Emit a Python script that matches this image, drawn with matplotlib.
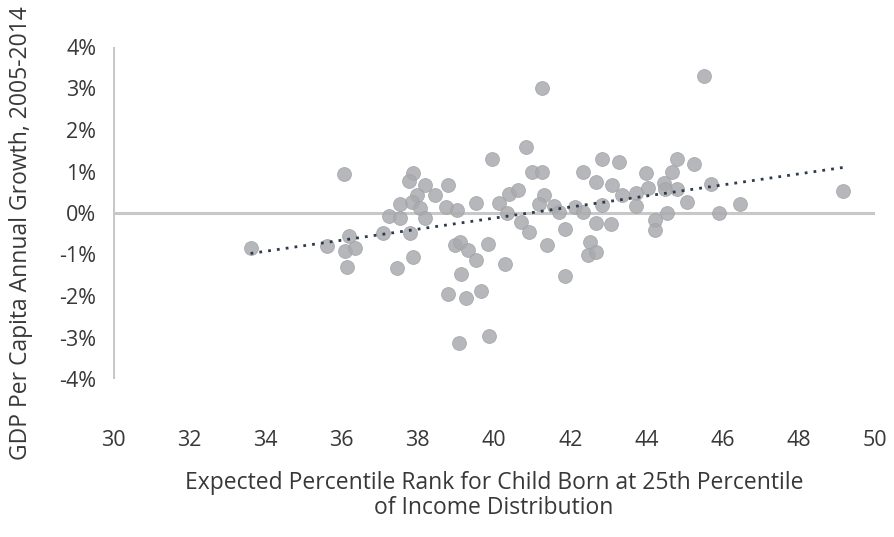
import numpy as np
import matplotlib
matplotlib.use("Agg")
import matplotlib.pyplot as plt

# expected percentile rank (x) vs GDP per capita growth in % (y)
rank = [33.61, 36.07, 35.61, 36.19, 36.09, 36.36, 36.13, 37.09, 37.25, 37.52,
        37.52, 37.80, 37.88, 37.45, 37.88, 37.77, 38.19, 37.97, 37.84, 38.06,
        38.19, 38.45, 38.74, 38.80, 38.80,
        41.25, 40.84, 39.94, 40.99, 41.25, 39.02, 39.52, 40.14, 40.40, 40.64,
        40.33, 40.71, 40.93, 41.31, 41.18, 41.58, 41.71, 41.86, 41.38, 41.86,
        39.85, 40.29, 38.98, 39.11, 39.33, 39.52, 39.13, 39.27, 39.65, 39.09,
        39.88, 42.33, 42.84, 43.28, 42.67, 43.11, 44.00, 43.35, 43.74, 44.04,
        43.72, 42.13, 42.33, 42.84, 42.67, 43.06, 42.52, 42.48, 42.67, 44.23,
        44.23, 45.51, 44.81, 45.26, 44.68, 44.46, 44.49, 44.81, 45.70, 45.06,
        44.53, 45.91, 46.46, 49.17]
growth = [-0.84, 0.93, -0.80, -0.55, -0.91, -0.85, -1.30, -0.49, -0.07, 0.22,
          -0.13, -0.49, -1.05, -1.32, 0.96, 0.76, 0.68, 0.43, 0.27, 0.11,
          -0.13, 0.43, 0.15, 0.68, -1.94,
          3.01, 1.60, 1.30, 1.00, 1.00, 0.07, 0.23, 0.23, 0.45, 0.56,
          -0.01, -0.21, -0.45, 0.43, 0.22, 0.17, 0.03, -0.39, -0.77, -1.52,
          -0.75, -1.24, -0.77, -0.69, -0.89, -1.14, -1.46, -2.06, -1.88, -3.13,
          -2.97, 1.00, 1.30, 1.24, 0.74, 0.68, 0.96, 0.43, 0.48, 0.60,
          0.17, 0.15, 0.03, 0.19, -0.25, -0.27, -0.69, -1.00, -0.93, -0.17,
          -0.41, 3.29, 1.30, 1.18, 0.98, 0.72, 0.57, 0.57, 0.70, 0.27,
          0.01, 0.01, 0.22, 0.53]

x_ticks = list(range(30, 51, 2))
y_ticks = list(range(-4, 5))

plt.rcParams['font.family'] = ['Open Sans', 'DejaVu Sans']
text_col = '#383838'
axis_col = '#c8c8c8'

fig = plt.figure(figsize=(8.94, 5.37), dpi=100)
ax = fig.add_axes([113/894, 1-379/537, 762/894, 332/537])

x = np.array(rank)
y = np.array(growth)

# zero line and y axis line
ax.axhline(0, color=axis_col, lw=2.2, zorder=1)
ax.axvline(30, color=axis_col, lw=2.2, zorder=1)

ax.scatter(x, y, s=100, color='#a9abae', alpha=0.85, edgecolor='#a0a3a7',
           linewidth=0.6, zorder=2)

# linear trend
k, b = np.polyfit(x, y, 1)
xs = np.array([x.min(), x.max()])
ax.plot(xs, k*xs + b, color='#2e3a4d', lw=2.0, linestyle=(0, (1, 2.2)), zorder=3)

ax.set_xlim(30, 50)
ax.set_ylim(-4, 4)
ax.set_xticks(x_ticks)
ax.set_xticklabels([str(t) for t in x_ticks])
ax.set_yticks(y_ticks)
ax.set_yticklabels([f'{t}%' for t in y_ticks])
ax.tick_params(axis='both', length=0, labelsize=15.5, colors=text_col)
ax.tick_params(axis='x', pad=37)
ax.tick_params(axis='y', pad=12)
for s in ax.spines.values():
    s.set_visible(False)

ax.set_xlabel('Expected Percentile Rank for Child Born at 25th Percentile\nof Income Distribution',
              fontsize=16.5, color=text_col, linespacing=1.05)
ax.xaxis.label.set_va('center')
ax.xaxis.set_label_coords(0.5, -0.35)
ax.set_ylabel('GDP Per Capita Annual Growth, 2005-2014', fontsize=16.5, color=text_col)
ax.yaxis.label.set_va('center')
ax.yaxis.set_label_coords(-0.121, 0.44)

fig.savefig('out.png', dpi=100)
